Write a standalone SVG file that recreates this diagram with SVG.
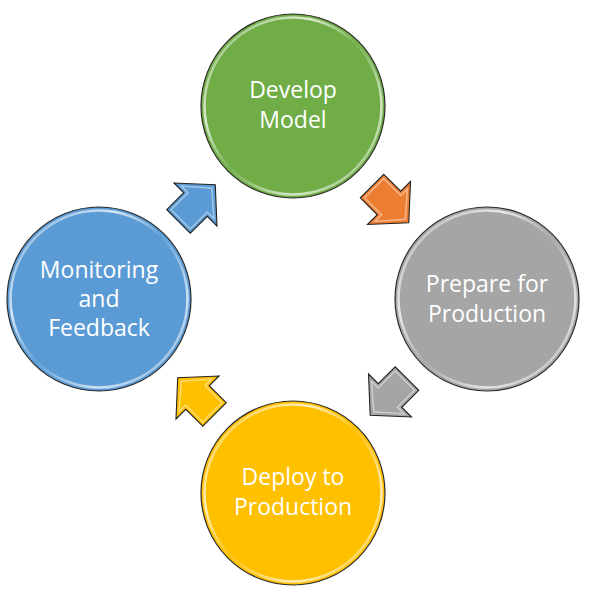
<svg xmlns="http://www.w3.org/2000/svg" width="596" height="602" viewBox="0 0 596 602">
<defs>
<linearGradient id="rim" x1="0" y1="0" x2="1" y2="1">
<stop offset="0" stop-color="#fff" stop-opacity="0.1"/>
<stop offset="0.3" stop-color="#fff" stop-opacity="0.75"/>
<stop offset="0.5" stop-color="#fff" stop-opacity="0.05"/>
<stop offset="0.75" stop-color="#fff" stop-opacity="0.7"/>
<stop offset="1" stop-color="#fff" stop-opacity="0.1"/>
</linearGradient>
<polygon id="arr" points="-24,-16.6 0,-16.6 0,-30.4 28,0 0,30.4 0,16.6 -24,16.6"/>
<polygon id="arrIn" points="-21,-13.6 3,-13.6 3,-23 23,0 3,23 3,13.6 -21,13.6"/>
</defs>
<style>
.c{stroke:#2b2b2b;stroke-width:1.2}
.rim{fill:none;stroke:url(#rim);stroke-width:2.5}
.t{font-family:"Open Sans","Liberation Sans",sans-serif;font-size:23px;fill:#fff;text-anchor:middle}
.a{stroke:#222;stroke-width:1.1;stroke-linejoin:miter}
.ai{fill:none;stroke:#fff;stroke-opacity:0.45;stroke-width:1.5}
</style>
<g id="connectors">
<g transform="translate(389,203) rotate(45)"><use href="#arr" class="a" fill="#ED7D31"/><use href="#arrIn" class="ai"/></g>
<g transform="translate(390,395.5) rotate(135)"><use href="#arr" class="a" fill="#A5A5A5"/><use href="#arrIn" class="ai"/></g>
<g transform="translate(197.5,397.5) rotate(225)"><use href="#arr" class="a" fill="#FFC000"/><use href="#arrIn" class="ai"/></g>
<g transform="translate(195.5,204.5) rotate(-45)"><use href="#arr" class="a" fill="#5B9BD5"/><use href="#arrIn" class="ai"/></g>
</g>
<g id="develop">
<circle cx="293" cy="106" r="92" class="c" fill="#70AD47"/>
<circle cx="293" cy="106" r="88.5" class="rim"/>
<text class="t" x="293" y="98">Develop</text>
<text class="t" x="293" y="128">Model</text>
</g>
<g id="prepare">
<circle cx="487" cy="299" r="92" class="c" fill="#A5A5A5"/>
<circle cx="487" cy="299" r="88.5" class="rim"/>
<text class="t" x="487" y="292">Prepare for</text>
<text class="t" x="487" y="322">Production</text>
</g>
<g id="deploy">
<circle cx="293" cy="493" r="92" class="c" fill="#FFC000"/>
<circle cx="293" cy="493" r="88.5" class="rim"/>
<text class="t" x="293" y="485">Deploy to</text>
<text class="t" x="293" y="515">Production</text>
</g>
<g id="monitoring">
<circle cx="99" cy="299" r="92" class="c" fill="#5B9BD5"/>
<circle cx="99" cy="299" r="88.5" class="rim"/>
<text class="t" x="99" y="278">Monitoring</text>
<text class="t" x="99" y="307">and</text>
<text class="t" x="99" y="336">Feedback</text>
</g>
</svg>
